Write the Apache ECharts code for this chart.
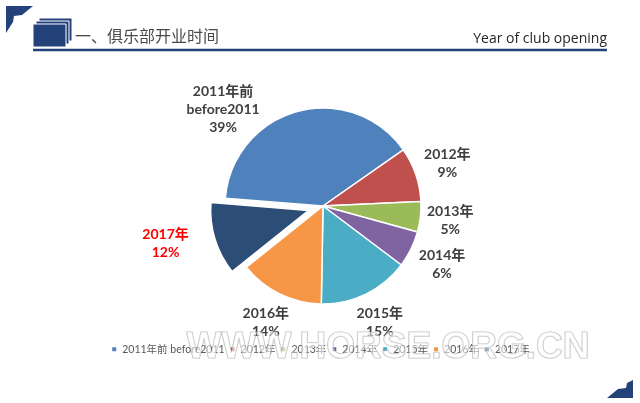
<!DOCTYPE html>
<html><head><meta charset="utf-8">
<script src="https://cdn.jsdelivr.net/npm/echarts@6/dist/echarts.min.js"></script>
<style>html,body{margin:0;padding:0;background:#fff}#c{width:640px;height:403px}</style>
</head><body><div id="c"></div>
<script>
// ---- data ----
const categories = ['2011年前 before2011', '2012年', '2013年', '2014年', '2015年', '2016年', '2017年'];
const shares = [39, 9, 5, 6, 15, 14, 12];
const titleCn = '一、俱乐部开业时间';
const titleEn = 'Year of club opening';
const watermark = 'WWW.HORSE.ORG.CN';

// ---- style ----
const palette = ['#4F81BD', '#C0504D', '#9BBB59', '#8064A2', '#4BACC6', '#F79646', '#2C4D75'];
const explodedIndex = 6;
const CX = 323, CY = 206, R = 98, EXPLODE = 15;
const START_ANGLE = 175.4; // echarts convention
const labelNudge = { 0: { angle: -46, gap: -4 } };
const NAVY = '#23427A';
const FONT = 'Lato, "Noto Sans CJK SC", sans-serif';

const total = shares.reduce((a, b) => a + b, 0);

function labelLayout(p) {
  const i = p.dataIndex;
  const cum = shares.slice(0, i).reduce((a, b) => a + b, 0);
  let ang = (90 - START_ANGLE) + 360 * (cum + shares[i] / 2) / total;
  let gap = 6;
  if (labelNudge[i]) { ang = labelNudge[i].angle; gap = labelNudge[i].gap; }
  const ux = Math.sin(ang * Math.PI / 180), uy = -Math.cos(ang * Math.PI / 180);
  const off = i === explodedIndex ? EXPLODE : 0;
  const hw = p.labelRect.width / 2, hh = p.labelRect.height / 2;
  const target = R + off + gap;
  let lo = 0, hi = 500;
  for (let k = 0; k < 60; k++) {
    const mid = (lo + hi) / 2;
    const dx = Math.max(Math.abs(ux * mid) - hw, 0);
    const dy = Math.max(Math.abs(uy * mid) - hh, 0);
    if (Math.hypot(dx, dy) < target) lo = mid; else hi = mid;
  }
  return { x: CX + ux * lo, y: CY + uy * lo, align: 'center', verticalAlign: 'middle' };
}

const chart = echarts.init(document.getElementById('c'), null, { renderer: 'canvas' });
chart.setOption({
  animation: false,
  backgroundColor: '#fff',
  color: palette,
  legend: {
    data: categories,
    left: 'center',
    top: 339,
    icon: 'rect',
    itemWidth: 6,
    itemHeight: 6,
    itemGap: 4,
    textStyle: { color: '#595959', fontSize: 10.5, fontFamily: FONT }
  },
  graphic: [
    { type: 'polygon', shape: { points: [[6, 6], [33, 6], [22, 15], [14, 16], [13, 22], [6, 33]] }, style: { fill: NAVY } },
    { type: 'polygon', shape: { points: [[633, 380], [633, 398], [607, 398], [618, 389], [626, 388], [627, 383]] }, style: { fill: NAVY } },
    { type: 'rect', shape: { x: 39, y: 18, width: 33, height: 23 }, style: { fill: NAVY, stroke: '#fff', lineWidth: 1 } },
    { type: 'rect', shape: { x: 36, y: 21, width: 33, height: 23 }, style: { fill: NAVY, stroke: '#fff', lineWidth: 1 } },
    { type: 'rect', shape: { x: 33, y: 24, width: 33, height: 23 }, style: { fill: NAVY, stroke: '#fff', lineWidth: 1 } },
    { type: 'line', shape: { x1: 33, y1: 50, x2: 607, y2: 50 }, style: { stroke: NAVY, lineWidth: 2.5 } },
    { type: 'text', x: 75, y: 36, style: { text: titleCn, fill: '#4a4a4a', font: '16px "Noto Sans CJK SC"', textVerticalAlign: 'middle' } },
    { type: 'text', x: 607, y: 39, style: { text: titleEn, fill: '#262626', font: '14px "Open Sans"', textAlign: 'right', textVerticalAlign: 'middle' } },
    { type: 'text', x: 388, y: 348, z: 100, style: { text: watermark, fill: 'rgba(255,255,255,0.55)', stroke: 'rgba(140,140,140,0.55)', lineWidth: 1.2, font: 'bold 37px "Liberation Sans"', textAlign: 'center', textVerticalAlign: 'middle' } }
  ],
  series: [{
    type: 'pie',
    center: [CX, CY],
    radius: R,
    startAngle: START_ANGLE,
    clockwise: true,
    selectedMode: 'single',
    selectedOffset: EXPLODE,
    avoidLabelOverlap: false,
    emphasis: { disabled: true },
    itemStyle: { borderColor: '#fff', borderWidth: 1.5 },
    label: {
      show: true,
      position: 'outside',
      color: '#404040',
      fontSize: 14,
      fontWeight: 'bold',
      fontFamily: FONT,
      lineHeight: 18,
      formatter: p => p.name.replace(' ', '\n') + '\n' + p.value + '%'
    },
    labelLine: { show: false },
    labelLayout: labelLayout,
    data: categories.map((name, i) => ({
      name: name,
      value: shares[i],
      selected: i === explodedIndex,
      label: i === explodedIndex ? { color: '#FF0000' } : undefined
    }))
  }]
});
</script></body></html>
